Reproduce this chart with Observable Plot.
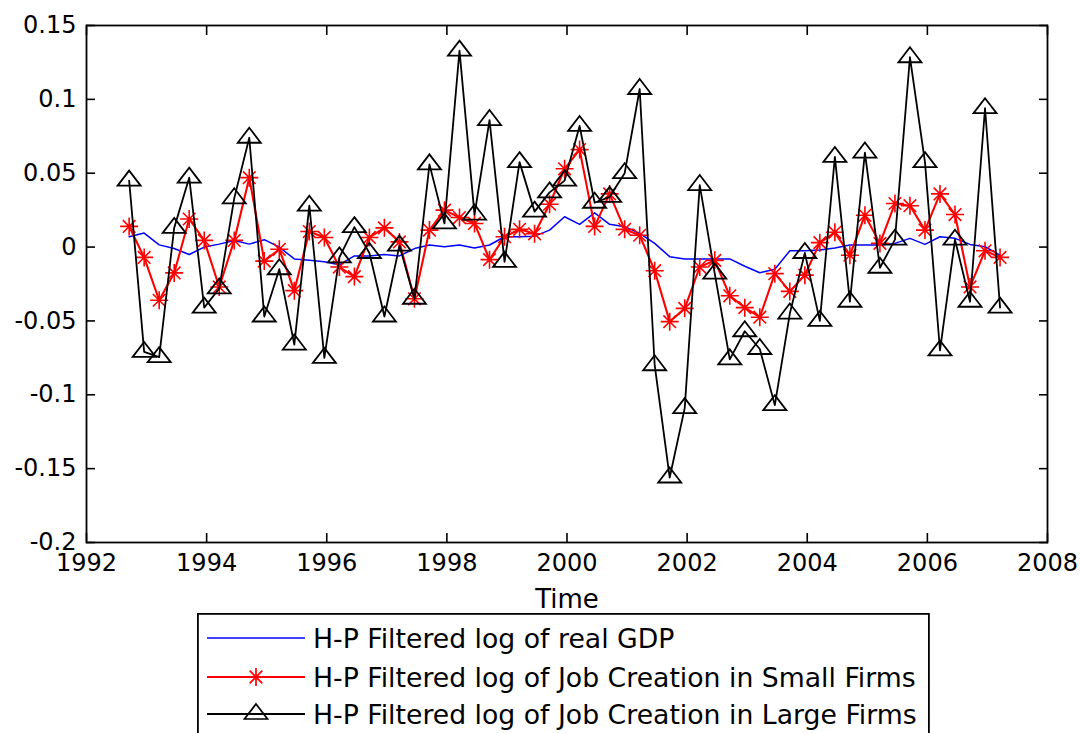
<!DOCTYPE html>
<html><head><meta charset="utf-8">
<script src="https://cdn.jsdelivr.net/npm/d3@7"></script>
<script src="https://cdn.jsdelivr.net/npm/@observablehq/plot@0.6"></script>
<style>
body{margin:0;background:#fff;}
#wrap{position:relative;width:1080px;height:733px;overflow:hidden;background:#fff;}
#legend{position:absolute;left:197px;top:613px;}
</style></head><body><div id="wrap"><div id="chart"></div><div id="legend"></div></div>
<script>
// quarterly observations
const startYear = 1992.71;
const quarterStep = 0.25;

const gdp = [0.007, 0.0095, 0.0015, -0.001, -0.005, 0.000, 0.002, 0.0045, 0.002, 0.005,
  0.000, -0.008, -0.009, -0.010, -0.012, -0.006, -0.006, -0.005, -0.006, -0.001,
  0.0014, 0.0002, 0.0014, -0.0007, 0.0014, 0.007, 0.007, 0.0074, 0.0115, 0.0205,
  0.0154, 0.0232, 0.0154, 0.0138, 0.0093, 0.0025, -0.0065, -0.008, -0.008, -0.008,
  -0.008, -0.013, -0.0174, -0.015, -0.0025, -0.0025, -0.002, -0.0007, 0.0014, 0.0014,
  0.0014, 0.0025, 0.0059, 0.0018, 0.007, 0.0059, 0.0018, 0.0002, -0.0054];

const small = [0.014, -0.007, -0.036, -0.0175, 0.019, 0.0045, -0.027, 0.0045, 0.047, -0.0095,
  -0.0015, -0.0295, 0.0105, 0.0065, -0.0135, -0.020, 0.0065, 0.013, 0.0035, -0.035,
  0.0115, 0.025, 0.020, 0.016, -0.0085, 0.007, 0.012, 0.009, 0.029, 0.053,
  0.066, 0.014, 0.036, 0.012, 0.008, -0.016, -0.0505, -0.0415, -0.0135, -0.009,
  -0.033, -0.041, -0.0475, -0.018, -0.030, -0.019, 0.003, 0.010, -0.0055, 0.0215,
  0.0025, 0.0295, 0.028, 0.0115, 0.036, 0.022, -0.027, -0.0025, -0.007];

const large = [0.045, -0.071, -0.0745, 0.013, 0.047, -0.041, -0.028, 0.033, 0.074, -0.047,
  -0.015, -0.066, 0.028, -0.075, -0.007, 0.0135, -0.004, -0.047, 0.001, -0.035,
  0.056, 0.016, 0.133, 0.022, 0.086, -0.010, 0.0575, 0.024, 0.037, 0.045,
  0.082, 0.030, 0.034, 0.050, 0.107, -0.080, -0.156, -0.109, 0.042, -0.018,
  -0.076, -0.057, -0.069, -0.107, -0.045, -0.004, -0.050, 0.061, -0.037, 0.064,
  -0.014, 0.005, 0.1285, 0.0575, -0.070, 0.005, -0.037, 0.094, -0.041];

const xTicks = [1992, 1994, 1996, 1998, 2000, 2002, 2004, 2006, 2008];
const yTicks = [-0.2, -0.15, -0.1, -0.05, 0, 0.05, 0.1, 0.15];
const yTickLabels = ["-0.2", "-0.15", "-0.1", "-0.05", "0", "0.05", "0.1", "0.15"];
const seriesNames = ["H-P Filtered log of real GDP",
  "H-P Filtered log of Job Creation in Small Firms",
  "H-P Filtered log of Job Creation in Large Firms"];
const xLabel = "Time";

const data = gdp.map((g, i) => ({t: startYear + i * quarterStep, gdp: g, small: small[i], large: large[i]}));

const triSym = {draw(ctx) { ctx.moveTo(0, -10); ctx.lineTo(11.5, 5); ctx.lineTo(-11.5, 5); ctx.closePath(); }};
const starSym = {draw(ctx) { const a = 9, d = 6.3;
  ctx.moveTo(-a, 0); ctx.lineTo(a, 0); ctx.moveTo(0, -a); ctx.lineTo(0, a);
  ctx.moveTo(-d, -d); ctx.lineTo(d, d); ctx.moveTo(-d, d); ctx.lineTo(d, -d); }};

const FONT = "DejaVu Sans, sans-serif";
const yFmt = d => yTickLabels[yTicks.findIndex(v => Math.abs(v - d) < 1e-9)];

const chart = Plot.plot({
  width: 1080, height: 612,
  marginLeft: 86, marginRight: 33, marginTop: 25, marginBottom: 70,
  style: {fontFamily: FONT, fontSize: "24px", color: "black", background: "white", overflow: "visible"},
  x: {domain: [1992, 2008]},
  y: {domain: [-0.2, 0.15]},
  marks: [
    Plot.line(data, {x: "t", y: "gdp", stroke: "#0000ff", strokeWidth: 1.5}),
    Plot.line(data, {x: "t", y: "small", stroke: "#ff0000", strokeWidth: 2.1}),
    Plot.dot(data, {x: "t", y: "small", symbol: starSym, stroke: "#ff0000", strokeWidth: 1.6, fill: "none"}),
    Plot.line(data, {x: "t", y: "large", stroke: "black", strokeWidth: 1.8}),
    Plot.dot(data, {x: "t", y: "large", symbol: triSym, stroke: "black", strokeWidth: 1.8, fill: "none"}),
    Plot.axisX({ticks: xTicks, tickFormat: d => String(d), tickSize: -9, tickPadding: 20, strokeWidth: 1.6,
      label: null}),
    Plot.axisX({ticks: [], tickSize: 0, label: xLabel, labelAnchor: "center", labelArrow: "none", labelOffset: 65,
      fontSize: 26}),
    Plot.axisX({anchor: "top", ticks: xTicks, tickFormat: () => "", tickSize: -9, strokeWidth: 1.6, label: null}),
    Plot.axisY({ticks: yTicks, tickFormat: yFmt, tickSize: -9, tickPadding: 19, strokeWidth: 1.6, label: null}),
    Plot.axisY({anchor: "right", ticks: yTicks, tickFormat: () => "", tickSize: -9, strokeWidth: 1.6, label: null}),
    Plot.frame({stroke: "black", strokeWidth: 1.8})
  ]
});
document.getElementById("chart").appendChild(chart);

// legend below the plot
const lg = d3.select("#legend").append("svg").attr("width", 740).attr("height", 130)
  .style("font-family", FONT).style("font-size", "26.7px");
lg.append("rect").attr("x", 0.9).attr("y", 0.9).attr("width", 731).attr("height", 160)
  .attr("fill", "white").attr("stroke", "black").attr("stroke-width", 1.8);
const rows = [
  {name: seriesNames[0], color: "#0000ff", sym: null, w: 1.5},
  {name: seriesNames[1], color: "#ff0000", sym: starSym, w: 2.1},
  {name: seriesNames[2], color: "black", sym: triSym, w: 1.8}
];
const rowY = [25, 64, 101];
rows.forEach((r, i) => {
  const g = lg.append("g").attr("transform", `translate(0,${rowY[i]})`);
  g.append("line").attr("x1", 10).attr("x2", 108).attr("y1", 0).attr("y2", 0)
    .attr("stroke", r.color).attr("stroke-width", r.w);
  if (r.sym) {
    const p = d3.path(); r.sym.draw(p);
    g.append("path").attr("d", p.toString()).attr("transform", "translate(59,0)")
      .attr("fill", "none").attr("stroke", r.color).attr("stroke-width", 1.7);
  }
  g.append("text").attr("x", 116).attr("y", 0).attr("dy", "0.36em").attr("fill", "black").text(r.name);
});
</script></body></html>
